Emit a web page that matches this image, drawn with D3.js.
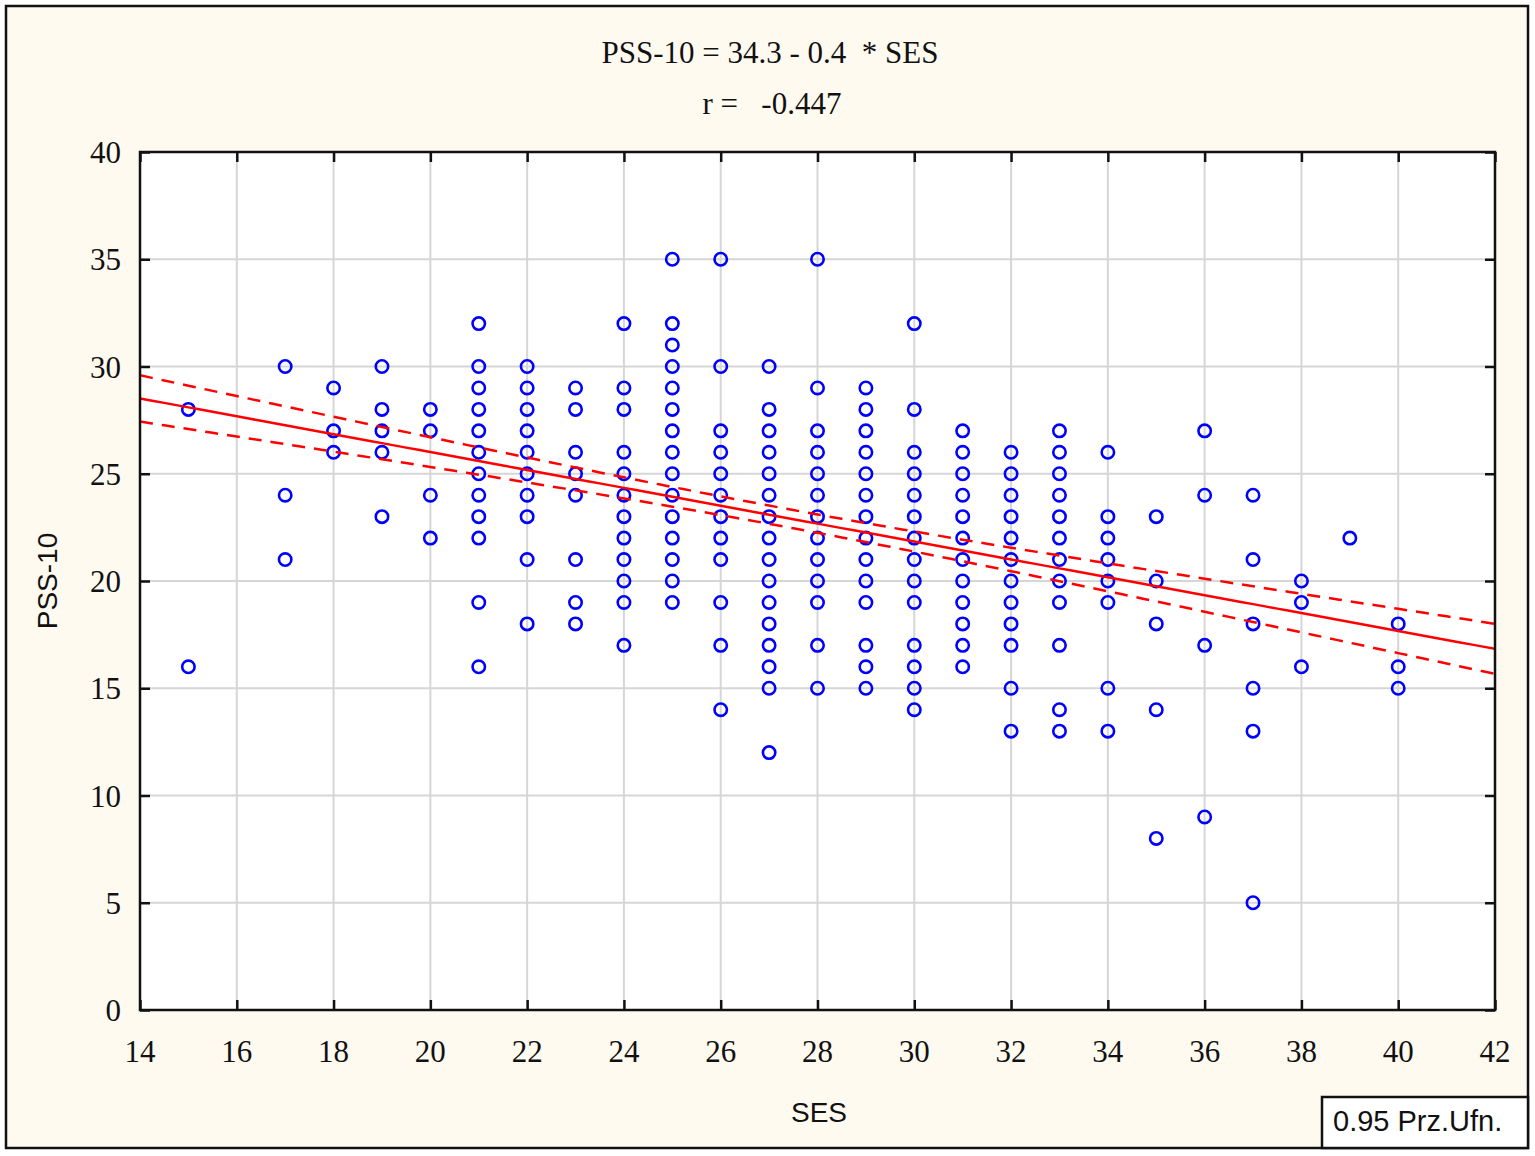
<!DOCTYPE html>
<html><head><meta charset="utf-8">
<script src="https://cdn.jsdelivr.net/npm/d3@7"></script>
<style>html,body{margin:0;padding:0;background:#fff;}svg{display:block;}</style>
</head><body>
<svg id="chart" width="1535" height="1156"></svg>
<script>
// SES values (x) with the PSS-10 values (y) observed at each
const sesValues = [15,17,18,19,20,21,22,23,24,25,26,27,28,29,30,31,32,33,34,35,36,37,38,39,40];
const pssAtSes = [
  [28,16],
  [30,24,21],
  [29,27,26],
  [30,28,27,26,23],
  [28,27,24,22],
  [32,30,29,28,27,26,25,24,23,22,19,16],
  [30,29,28,27,26,25,24,23,21,18],
  [29,28,26,25,24,21,19,18],
  [32,29,28,26,25,24,23,22,21,20,19,17],
  [35,32,31,30,29,28,27,26,25,24,23,22,21,20,19],
  [35,30,27,26,25,24,23,22,21,19,17,14],
  [30,28,27,26,25,24,23,22,21,20,19,18,17,16,15,12],
  [35,29,27,26,25,24,23,22,21,20,19,17,15],
  [29,28,27,26,25,24,23,22,21,20,19,17,16,15],
  [32,28,26,25,24,23,22,21,20,19,17,16,15,14],
  [27,26,25,24,23,22,21,20,19,18,17,16],
  [26,25,24,23,22,21,20,19,18,17,15,13],
  [27,26,25,24,23,22,21,20,19,17,14,13],
  [26,23,22,21,20,19,15,13],
  [23,20,18,14,8],
  [27,24,17,9],
  [24,21,18,15,13,5],
  [20,19,16],
  [22],
  [18,16,15]
];
// regression line and 95% confidence band
const fitIntercept = 34.35;
const fitSlope = -0.417;
const bandCentreSes = 27.35;     // x where the band is narrowest
const bandVarAtCentre = 0.18;    // squared half-width at that x
const bandVarGrowth = 0.00553;   // growth of squared half-width per (x - centre)^2
const xTicks = [14,16,18,20,22,24,26,28,30,32,34,36,38,40,42];
const yTicks = [0,5,10,15,20,25,30,35,40];
const titleLine1 = "PSS-10 = 34.3 - 0.4  * SES";
const titleLine2 = "r =   -0.447";
const xTitle = "SES";
const yTitle = "PSS-10";
const legendText = "0.95 Prz.Ufn.";

const points = [];
sesValues.forEach((s,i)=>pssAtSes[i].forEach(p=>points.push({x:s,y:p})));

const svg = d3.select("#chart");
const L=140, T=152, R=1495, B=1010;
const x = d3.scaleLinear().domain([14,42]).range([L,R]);
const y = d3.scaleLinear().domain([0,40]).range([B,T]);

// background + outer frame
svg.append("rect").attr("x",6).attr("y",6).attr("width",1522).attr("height",1142)
  .attr("fill","#fefaf0").attr("stroke","#111").attr("stroke-width",2.5);

// plot background
svg.append("rect").attr("x",L).attr("y",T).attr("width",R-L).attr("height",B-T).attr("fill","#fff");

// grid
const g = svg.append("g");
g.selectAll(".gx").data(xTicks.slice(1,-1)).enter().append("line")
  .attr("x1",d=>x(d)).attr("x2",d=>x(d)).attr("y1",T).attr("y2",B)
  .attr("stroke","#d6d6d6").attr("stroke-width",2);
g.selectAll(".gy").data(yTicks.slice(1,-1)).enter().append("line")
  .attr("y1",d=>y(d)).attr("y2",d=>y(d)).attr("x1",L).attr("x2",R)
  .attr("stroke","#d6d6d6").attr("stroke-width",2);

const xs = d3.range(14,42.001,0.25);
const hw = v=>Math.sqrt(bandVarAtCentre + bandVarGrowth*(v-bandCentreSes)**2);
const fit = xs.map(v=>({x:v,y:fitIntercept+fitSlope*v}));
const up = xs.map(v=>({x:v,y:fitIntercept+fitSlope*v+hw(v)}));
const lo = xs.map(v=>({x:v,y:fitIntercept+fitSlope*v-hw(v)}));
const line = d3.line().x(d=>x(d.x)).y(d=>y(d.y));

svg.append("clipPath").attr("id","pc").append("rect")
  .attr("x",L).attr("y",T).attr("width",R-L).attr("height",B-T);
const pg = svg.append("g").attr("clip-path","url(#pc)");

pg.selectAll(".pt").data(points).enter().append("circle")
  .attr("cx",d=>x(d.x)).attr("cy",d=>y(d.y)).attr("r",6.2)
  .attr("fill","none").attr("stroke","#0000ff").attr("stroke-width",2.6);

pg.append("path").datum(fit).attr("d",line).attr("fill","none").attr("stroke","#ff0000").attr("stroke-width",2.5);
[up,lo].forEach(dat=>pg.append("path").datum(dat).attr("d",line).attr("fill","none")
  .attr("stroke","#ff0000").attr("stroke-width",2.5).attr("stroke-dasharray","13,9"));

// axes (ticks inside, on all four sides)
const tickLen = 10;
const axG = svg.append("g");
axG.append("g").attr("transform",`translate(0,${B})`)
  .call(d3.axisBottom(x).tickValues(xTicks).tickSize(-tickLen).tickFormat(""));
axG.append("g").attr("transform",`translate(0,${T})`)
  .call(d3.axisTop(x).tickValues(xTicks).tickSize(-tickLen).tickFormat(""));
axG.append("g").attr("transform",`translate(${L},0)`)
  .call(d3.axisLeft(y).tickValues(yTicks).tickSize(-tickLen).tickFormat(""));
axG.append("g").attr("transform",`translate(${R},0)`)
  .call(d3.axisRight(y).tickValues(yTicks).tickSize(-tickLen).tickFormat(""));
axG.selectAll("line").attr("stroke","#111").attr("stroke-width",2.5);
axG.selectAll(".domain").remove();

svg.append("rect").attr("x",L).attr("y",T).attr("width",R-L).attr("height",B-T)
  .attr("fill","none").attr("stroke","#111").attr("stroke-width",2.5);

const serif = "'Liberation Serif','Times New Roman',serif";
const sans = "'Liberation Sans',Arial,sans-serif";

// tick labels
svg.selectAll(".xl").data(xTicks).enter().append("text")
  .attr("x",d=>x(d)).attr("y",1062).attr("text-anchor","middle")
  .attr("font-family",serif).attr("font-size",31).attr("fill","#111").text(d=>d);
svg.selectAll(".yl").data(yTicks).enter().append("text")
  .attr("x",121).attr("y",d=>y(d)+11).attr("text-anchor","end")
  .attr("font-family",serif).attr("font-size",31).attr("fill","#111").text(d=>d);

// titles
svg.append("text").attr("x",770).attr("y",63).attr("text-anchor","middle")
  .attr("font-family",serif).attr("font-size",31).attr("fill","#111")
  .style("white-space","pre").text(titleLine1);
svg.append("text").attr("x",772).attr("y",114).attr("text-anchor","middle")
  .attr("font-family",serif).attr("font-size",31).attr("fill","#111")
  .style("white-space","pre").text(titleLine2);

svg.append("text").attr("x",819).attr("y",1122).attr("text-anchor","middle")
  .attr("font-family",sans).attr("font-size",28).attr("fill","#111").text(xTitle);
svg.append("text").attr("transform","translate(57,581) rotate(-90)").attr("text-anchor","middle")
  .attr("font-family",sans).attr("font-size",28).attr("fill","#111").text(yTitle);

// legend box
svg.append("rect").attr("x",1322).attr("y",1097).attr("width",206).attr("height",51)
  .attr("fill","#fff").attr("stroke","#111").attr("stroke-width",2.5);
svg.append("text").attr("x",1333).attr("y",1131)
  .attr("font-family",sans).attr("font-size",29).attr("fill","#111").text(legendText);
</script>
</body></html>
